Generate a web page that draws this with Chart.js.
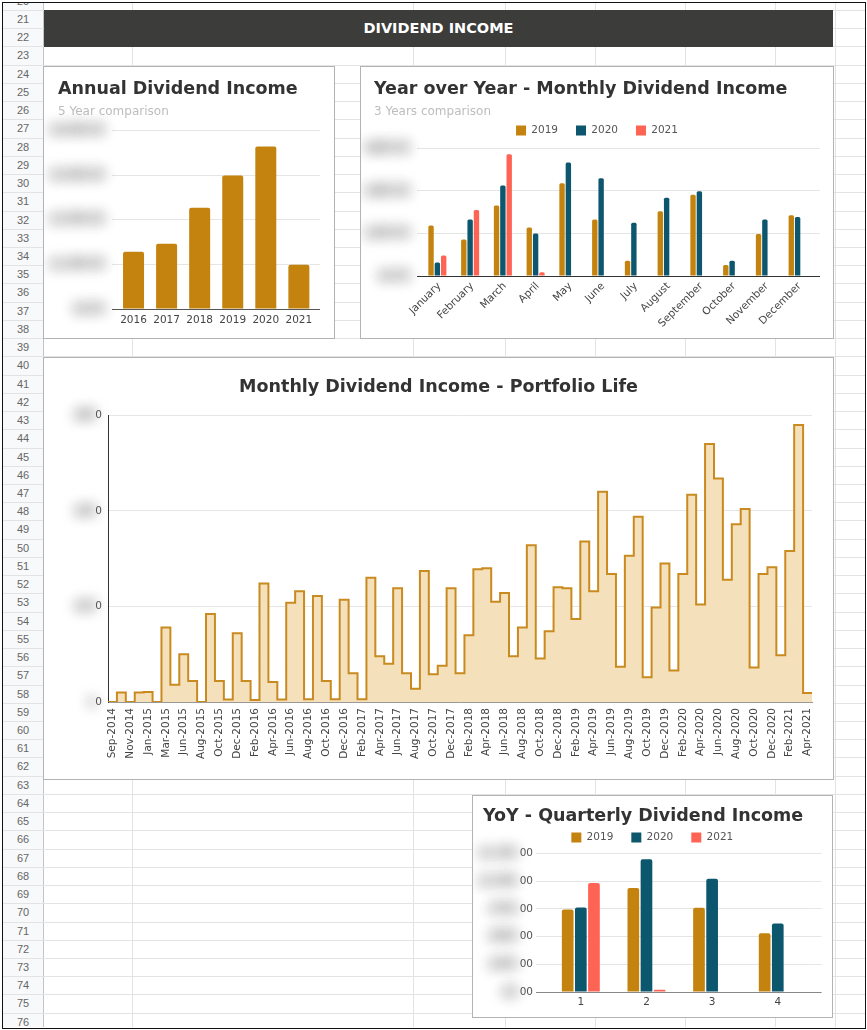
<!DOCTYPE html>
<html lang="en">
<head>
<meta charset="utf-8">
<title>Dividend Income</title>
<script src="https://cdn.jsdelivr.net/npm/chart.js@4.4.1/dist/chart.umd.min.js"></script>
<style>
  html, body { margin: 0; padding: 0; background: #fff; }
  body { position: relative; width: 867px; height: 1030px; overflow: hidden; font-family: "DejaVu Sans", sans-serif; }
  #grid { position: absolute; left: 3px; top: 3px; width: 862px; height: 1024px; overflow: hidden; }
  #rowHeads { position: absolute; left: 0; top: 0; width: 40px; height: 100%; background: #f8f9fa; border-right: 1px solid #c4c4c4; }
  .hline { position: absolute; left: 0; right: 0; height: 1px; background: #e3e3e3; }
  .vline { position: absolute; top: 0; bottom: 0; width: 1px; background: #e3e3e3; }
  .rownum { position: absolute; left: 0; width: 40px; text-align: center; font: 11px "Liberation Sans", Arial, sans-serif; color: #666; }
  #frame { position: absolute; left: 2px; top: 2px; width: 864px; height: 1027px; box-sizing: border-box; border: 1px solid #111; pointer-events: none; }
  #banner { position: absolute; left: 44px; top: 10px; width: 789px; height: 37px; background: #3c3c3b; color: #fff; font: bold 14.5px "DejaVu Sans", sans-serif; text-align: center; line-height: 37px; }
  .card { position: absolute; box-sizing: border-box; border: 1px solid #b3b3b3; background: #fff; }
  .card canvas { display: block; }
</style>
</head>
<body>
<div id="grid"><div id="rowHeads"></div></div>
<div id="banner">DIVIDEND INCOME</div>

<div class="card" style="left:43px; top:66px; width:292px; height:273px;">
  <canvas id="annualChart" width="290" height="271"></canvas>
</div>
<div class="card" style="left:360px; top:66px; width:474px; height:273px;">
  <canvas id="monthlyChart" width="472" height="271"></canvas>
</div>
<div class="card" style="left:43px; top:357px; width:791px; height:423px;">
  <canvas id="lifeChart" width="789" height="421"></canvas>
</div>
<div class="card" style="left:472px; top:795px; width:361px; height:223px;">
  <canvas id="quarterChart" width="359" height="221"></canvas>
</div>
<div id="frame"></div>

<script>
// ---- Données ----
const annualYears = ['2016', '2017', '2018', '2019', '2020', '2021'];
const annualIncome = [1280, 1460, 2270, 2990, 3640, 990];
const annualTicks = [0, 1000, 2000, 3000, 4000];

const monthNames = ['January', 'February', 'March', 'April', 'May', 'June',
  'July', 'August', 'September', 'October', 'November', 'December'];
const monthly2019 = [238, 172, 332, 228, 436, 266, 72, 304, 382, 52, 198, 286];
const monthly2020 = [64, 266, 426, 200, 534, 460, 250, 368, 398, 72, 266, 278];
const monthly2021 = [96, 310, 572, 18];
const monthlyTicks = [0, 200, 400, 600];

const portfolioMonths = [
  'Sep-2014', 'Oct-2014', 'Nov-2014', 'Dec-2014',
  'Jan-2015', 'Feb-2015', 'Mar-2015', 'Apr-2015', 'Jun-2015', 'Jul-2015', 'Aug-2015', 'Sep-2015', 'Oct-2015', 'Nov-2015', 'Dec-2015',
  'Jan-2016', 'Feb-2016', 'Mar-2016', 'Apr-2016', 'May-2016', 'Jun-2016', 'Jul-2016', 'Aug-2016', 'Sep-2016', 'Oct-2016', 'Nov-2016', 'Dec-2016',
  'Jan-2017', 'Feb-2017', 'Mar-2017', 'Apr-2017', 'May-2017', 'Jun-2017', 'Jul-2017', 'Aug-2017', 'Sep-2017', 'Oct-2017', 'Nov-2017', 'Dec-2017',
  'Jan-2018', 'Feb-2018', 'Mar-2018', 'Apr-2018', 'May-2018', 'Jun-2018', 'Jul-2018', 'Aug-2018', 'Sep-2018', 'Oct-2018', 'Nov-2018', 'Dec-2018',
  'Jan-2019', 'Feb-2019', 'Mar-2019', 'Apr-2019', 'May-2019', 'Jun-2019', 'Jul-2019', 'Aug-2019', 'Sep-2019', 'Oct-2019', 'Nov-2019', 'Dec-2019',
  'Jan-2020', 'Feb-2020', 'Mar-2020', 'Apr-2020', 'May-2020', 'Jun-2020', 'Jul-2020', 'Aug-2020', 'Sep-2020', 'Oct-2020', 'Nov-2020', 'Dec-2020',
  'Jan-2021', 'Feb-2021', 'Mar-2021', 'Apr-2021'
];
const portfolioIncome = [
  0, 20, 0, 20,
  21, 0, 156, 36, 100, 44, 0, 184, 44, 5, 144,
  44, 4, 248, 42, 5, 208, 232, 6, 222, 44, 6, 214,
  60, 6, 260, 96, 80, 238, 60, 28, 274, 58, 76, 238,
  60, 140, 278, 280, 210, 228, 96, 156, 328, 91, 148, 240,
  238, 174, 336, 232, 440, 268, 74, 306, 388, 52, 198, 290,
  66, 268, 434, 204, 540, 468, 256, 372, 404, 72, 268, 282,
  98, 316, 580, 19
];
const portfolioTicks = [0, 200, 400, 600];

const quarters = ['1', '2', '3', '4'];
const quarterly2019 = [745, 938, 760, 530];
const quarterly2020 = [762, 1198, 1022, 618];
const quarterly2021 = [982, 20];
const quarterlyTicks = [0, 250, 500, 750, 1000, 1250];

// ---- Styles ----
const GOLD = '#c4830f';
const TEAL = '#0c566e';
const CORAL = '#ff6354';
const GRID = '#e5e5e5';
const TITLE_FONT = { size: 17.5, weight: 'bold' };
const TICK_FONT = { size: 10.5 };

Chart.defaults.font.family = '"DejaVu Sans", sans-serif';
Chart.defaults.color = '#444';
Chart.defaults.animation = false;
Chart.defaults.plugins.tooltip.enabled = false;

// Fond type tableur
(function buildSheet() {
  const grid = document.getElementById('grid');
  const rowTop = 10, rowH = 18.23;
  [132, 413, 505, 595, 685, 775, 835].forEach(x => {
    const v = document.createElement('div');
    v.className = 'vline';
    v.style.left = (x - 3) + 'px';
    grid.appendChild(v);
  });
  for (let r = 20; r <= 77; r++) {
    const top = rowTop + (r - 21) * rowH - 3;
    const line = document.createElement('div');
    line.className = 'hline';
    line.style.top = (top + rowH) + 'px';
    grid.appendChild(line);
    const num = document.createElement('div');
    num.className = 'rownum';
    num.style.top = (top + 3) + 'px';
    num.textContent = r;
    grid.appendChild(num);
  }
})();

const money2 = v => '$' + v.toLocaleString('en-US', { minimumFractionDigits: 2 });
const money0 = v => '$' + v.toLocaleString('en-US');
const last = arr => arr[arr.length - 1];

// Libellés de l'axe Y floutés (comme sur la capture)
const blurTicks = {
  id: 'blurTicks',
  afterDraw(chart, args, opts) {
    const scale = chart.scales.y;
    const ctx = chart.ctx;
    ctx.save();
    ctx.font = '10.5px "DejaVu Sans", sans-serif';
    ctx.textAlign = 'right';
    ctx.textBaseline = 'middle';
    scale.ticks.forEach((tick, i) => {
      const label = String(tick.label);
      const y = scale.getPixelForTick(i);
      let x = scale.right - opts.gap;
      const tail = opts.keep ? label.slice(-opts.keep) : '';
      const head = label.slice(0, label.length - tail.length);
      if (tail) {
        ctx.fillStyle = '#555';
        ctx.fillText(tail, x, y);
        x -= ctx.measureText(tail).width;
      }
      ctx.filter = 'blur(7px)';
      ctx.fillStyle = '#555';
      ctx.fillText(head, x, y);
      ctx.fillText(head, x, y);
      ctx.filter = 'none';
    });
    ctx.restore();
  }
};

function fixAxis(scale, width, bottom) {
  scale.width = width;
  scale.paddingBottom = bottom;
}

// grille claire, ligne de base plus foncée
const gridColor = base => c => (c.tick && c.tick.value === 0 ? base : GRID);

// petit axe droit : prolonge les lignes de grille au-delà des barres
function edgeAxis(ticks, len, base) {
  return {
    position: 'right', min: 0, max: last(ticks),
    ticks: { display: false, stepSize: ticks[1] },
    grid: { drawOnChartArea: false, tickLength: len, color: gridColor(base) },
    border: { display: false },
    afterFit: s => { s.width = len; }
  };
}

function spacer(height) {
  return {
    type: 'category', position: 'top',
    grid: { display: false }, border: { display: false }, ticks: { display: false },
    afterFit: s => { s.height = height; }
  };
}

// ---- Annual Dividend Income ----
new Chart(document.getElementById('annualChart'), {
  type: 'bar',
  data: {
    labels: annualYears,
    datasets: [{ data: annualIncome, backgroundColor: GOLD, borderRadius: 2, categoryPercentage: 1, barPercentage: 0.635 }]
  },
  options: {
    responsive: false,
    layout: { padding: { top: 12, left: 14, right: 14, bottom: 0 } },
    plugins: {
      legend: { display: false },
      title: { display: true, text: 'Annual Dividend Income', align: 'start', color: '#333', font: TITLE_FONT, padding: { top: 0, bottom: 4 } },
      subtitle: { display: true, text: '5 Year comparison', align: 'start', color: '#bdbdbd', font: { size: 12 }, padding: { top: 1, bottom: 11 } },
      blurTicks: { keep: 0, gap: 13 }
    },
    scales: {
      x: { grid: { display: false, drawTicks: false }, border: { color: '#555' }, ticks: { padding: 5, color: '#444', font: TICK_FONT } },
      y: {
        min: 0, max: last(annualTicks),
        ticks: { display: false, stepSize: annualTicks[1], callback: money2 },
        grid: { color: gridColor('#555'), tickLength: 5 }, border: { display: false },
        afterFit: s => fixAxis(s, 59, 29)
      },
      yEdge: edgeAxis(annualTicks, 4.6, '#555')
    }
  },
  plugins: [blurTicks]
});

// ---- Year over Year - Monthly ----
new Chart(document.getElementById('monthlyChart'), {
  type: 'bar',
  data: {
    labels: monthNames,
    datasets: [
      { label: '2019', data: monthly2019, backgroundColor: GOLD },
      { label: '2020', data: monthly2020, backgroundColor: TEAL },
      { label: '2021', data: monthly2021, backgroundColor: CORAL }
    ]
  },
  options: {
    responsive: false,
    datasets: { bar: { categoryPercentage: 0.58, barPercentage: 0.85, borderRadius: 1.5 } },
    layout: { padding: { top: 12, left: 13, right: 13, bottom: 0 } },
    plugins: {
      title: { display: true, text: 'Year over Year - Monthly Dividend Income', align: 'start', color: '#333', font: TITLE_FONT, padding: { top: 0, bottom: 4 } },
      subtitle: { display: true, text: '3 Years comparison', align: 'start', color: '#bdbdbd', font: { size: 12 }, padding: { top: 1, bottom: -12.25 } },
      legend: { labels: { boxWidth: 10, boxHeight: 10, padding: 18, color: '#555', font: TICK_FONT } },
      blurTicks: { keep: 0, gap: 12 }
    },
    scales: {
      x: {
        grid: { display: false, drawTicks: false }, border: { color: '#333' },
        ticks: { padding: 4, labelOffset: 2, color: '#444', font: TICK_FONT, minRotation: 45, maxRotation: 45, autoSkip: false }
      },
      y: {
        min: 0, max: last(monthlyTicks),
        ticks: { display: false, stepSize: monthlyTicks[1], callback: money2 },
        grid: { color: gridColor('#333'), tickLength: 4 }, border: { display: false },
        afterFit: s => fixAxis(s, 47, 62)
      },
      yEdge: edgeAxis(monthlyTicks, 6, '#333'),
      gap: spacer(2.75)
    }
  },
  plugins: [blurTicks]
});

// ---- Monthly Dividend Income - Portfolio Life ----
const lifePoints = portfolioIncome.map((v, i) => ({ x: i - 0.5, y: v }));
lifePoints.push({ x: portfolioIncome.length - 0.5, y: last(portfolioIncome) });

new Chart(document.getElementById('lifeChart'), {
  type: 'line',
  data: {
    datasets: [{
      data: lifePoints, stepped: true, fill: 'origin',
      borderColor: '#c98a1f', backgroundColor: '#f4e0ba', borderWidth: 2, pointRadius: 0
    }]
  },
  options: {
    responsive: false,
    layout: { padding: { top: 19, left: 21, right: 21, bottom: 0 } },
    plugins: {
      legend: { display: false },
      title: { display: true, text: 'Monthly Dividend Income - Portfolio Life', color: '#333', font: TITLE_FONT, padding: { top: 0, bottom: 17.4 } },
      blurTicks: { keep: 1, gap: 6 }
    },
    scales: {
      x: {
        type: 'linear', min: -0.5, max: portfolioMonths.length - 0.5,
        afterBuildTicks: s => { s.ticks = portfolioMonths.map((m, i) => ({ value: i })).filter(t => t.value % 2 === 0); },
        ticks: { callback: v => portfolioMonths[v], autoSkip: false, minRotation: 90, maxRotation: 90, padding: 6, color: '#444', font: TICK_FONT },
        grid: { display: false, drawTicks: false }, border: { color: '#999' }
      },
      y: {
        min: 0, max: last(portfolioTicks),
        ticks: { display: false, stepSize: portfolioTicks[1], callback: money0 },
        grid: { color: '#e6e6e6', drawTicks: false }, border: { color: '#333' },
        afterFit: s => fixAxis(s, 43, 77)
      }
    }
  },
  plugins: [blurTicks]
});

// ---- YoY - Quarterly ----
new Chart(document.getElementById('quarterChart'), {
  type: 'bar',
  data: {
    labels: quarters,
    datasets: [
      { label: '2019', data: quarterly2019, backgroundColor: GOLD },
      { label: '2020', data: quarterly2020, backgroundColor: TEAL },
      { label: '2021', data: quarterly2021, backgroundColor: CORAL }
    ]
  },
  options: {
    responsive: false,
    datasets: { bar: { categoryPercentage: 0.6, barPercentage: 0.89, borderRadius: 2 } },
    layout: { padding: { top: 10, left: 10, right: 10.4, bottom: 0 } },
    plugins: {
      title: { display: true, text: 'YoY - Quarterly Dividend Income', align: 'start', color: '#333', font: TITLE_FONT, padding: { top: 0, bottom: -12.85 } },
      legend: { labels: { boxWidth: 10, boxHeight: 10, padding: 18, color: '#555', font: TICK_FONT } },
      blurTicks: { keep: 2, gap: 15 }
    },
    scales: {
      x: { grid: { display: false, drawTicks: false }, border: { color: '#888' }, ticks: { padding: 4, color: '#444', font: TICK_FONT } },
      y: {
        min: 0, max: last(quarterlyTicks),
        ticks: { display: false, stepSize: quarterlyTicks[1], callback: money2 },
        grid: { color: gridColor('#888'), tickLength: 12 }, border: { display: false },
        afterFit: s => fixAxis(s, 65, 25)
      },
      yEdge: edgeAxis(quarterlyTicks, 11, '#888'),
      gap: spacer(0.75)
    }
  },
  plugins: [blurTicks]
});
</script>
</body>
</html>
